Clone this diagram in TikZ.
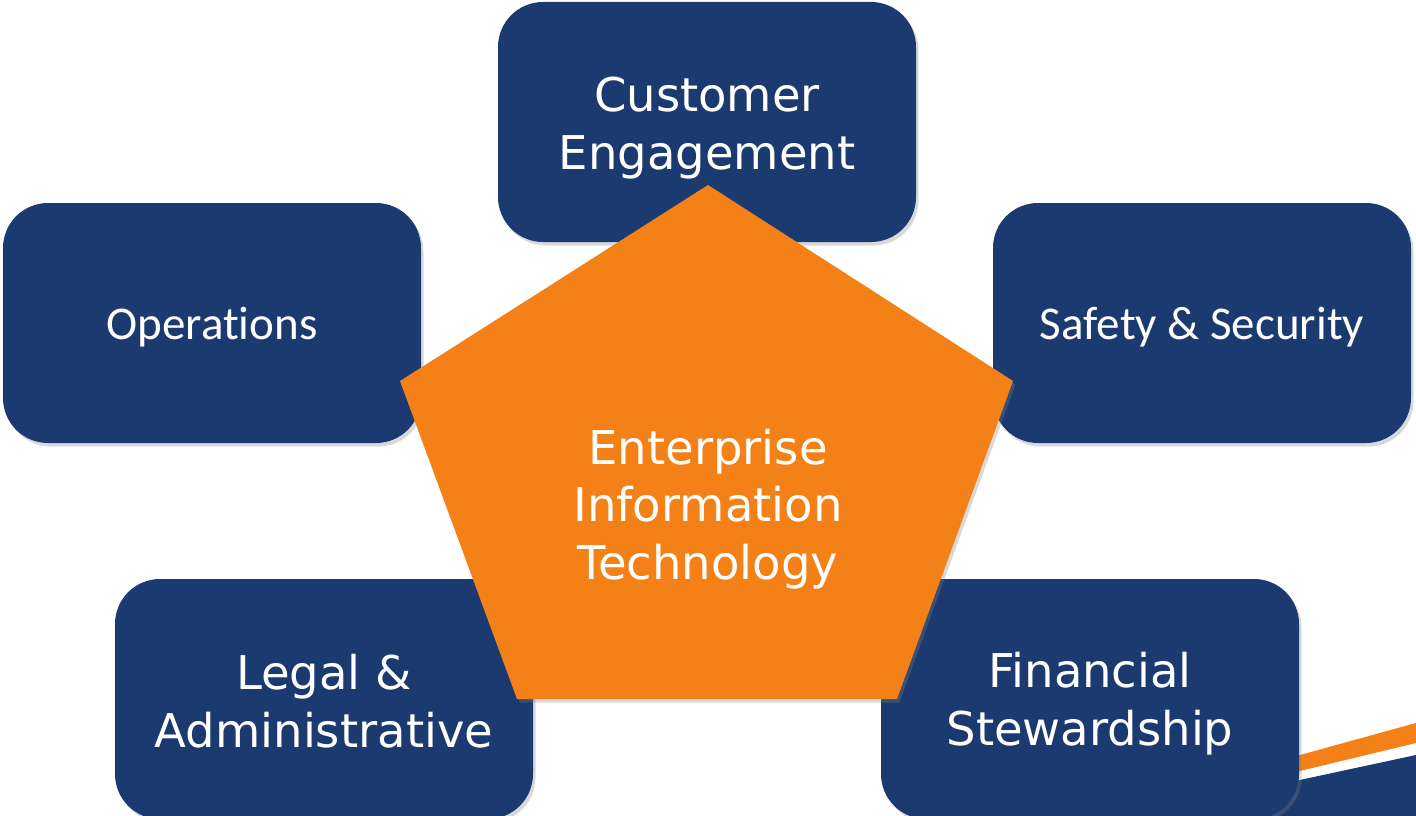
\documentclass[tikz,border=0pt]{standalone}
\usepackage{fontspec}
\usetikzlibrary{shadows}
\newfontfamily\verdfont{DejaVu Sans}
\newfontfamily\calfont{Carlito}[Ligatures=NoCommon]
\definecolor{navy}{RGB}{27,58,112}
\definecolor{eorange}{RGB}{244,129,24}
\tikzset{
  softshadow/.style={drop shadow={opacity=0.3, shadow xshift=2.5pt, shadow yshift=-3.5pt}},
  area/.style={rectangle, fill=navy, rounded corners=45pt,
    minimum width=418pt, minimum height=240pt, inner sep=0pt, softshadow},
  wide/.style={text=white, align=center, inner sep=0pt,
    font=\verdfont\fontsize{46.5}{57.5}\selectfont},
  narrow/.style={text=white, align=center, inner sep=0pt,
    font=\calfont\fontsize{47}{56}\selectfont},
}
\begin{document}
\begin{tikzpicture}[x=1pt,y=-1pt]
\useasboundingbox (0,0) rectangle (1416,816);

% swoosh in the lower right corner
\fill[navy] (1250,790.7) -- (1416,755) -- (1416,816) -- (1250,816) -- cycle;
\fill[eorange] (1250,768.8) -- (1416,723) -- (1416,743) -- (1250,783) -- cycle;

% the five areas
\node[area] (cust)  at (707,122) {};
\node[area] (ops)   at (212,323) {};
\node[area] (safe)  at (1202,323) {};
\node[area] (legal) at (324,699) {};
\node[area] (fin)   at (1090,699) {};

\node[wide]   (custtext)  at (707,128)   {Customer\\Engagement};
\node[narrow] (opstext)   at (212,327)   {Operations};
\node[narrow] (safetext)  at (1202,327)  {Safety \& Security};
\node[wide]   (legaltext) at (324,701)   {Legal \&\\Administrative};
\node[wide]   (fintext)   at (1090,703.5) {Financial\\Stewardship};

% central pentagon
\coordinate (p1) at (708,185);
\coordinate (p2) at (1013,381);
\coordinate (p3) at (897,699);
\coordinate (p4) at (517,699);
\coordinate (p5) at (400,381);
\fill[eorange, softshadow] (p1) -- (p2) -- (p3) -- (p4) -- (p5) -- cycle;
\node[wide] (eit) at (708,509) {Enterprise\\Information\\Technology};
\end{tikzpicture}
\end{document}
